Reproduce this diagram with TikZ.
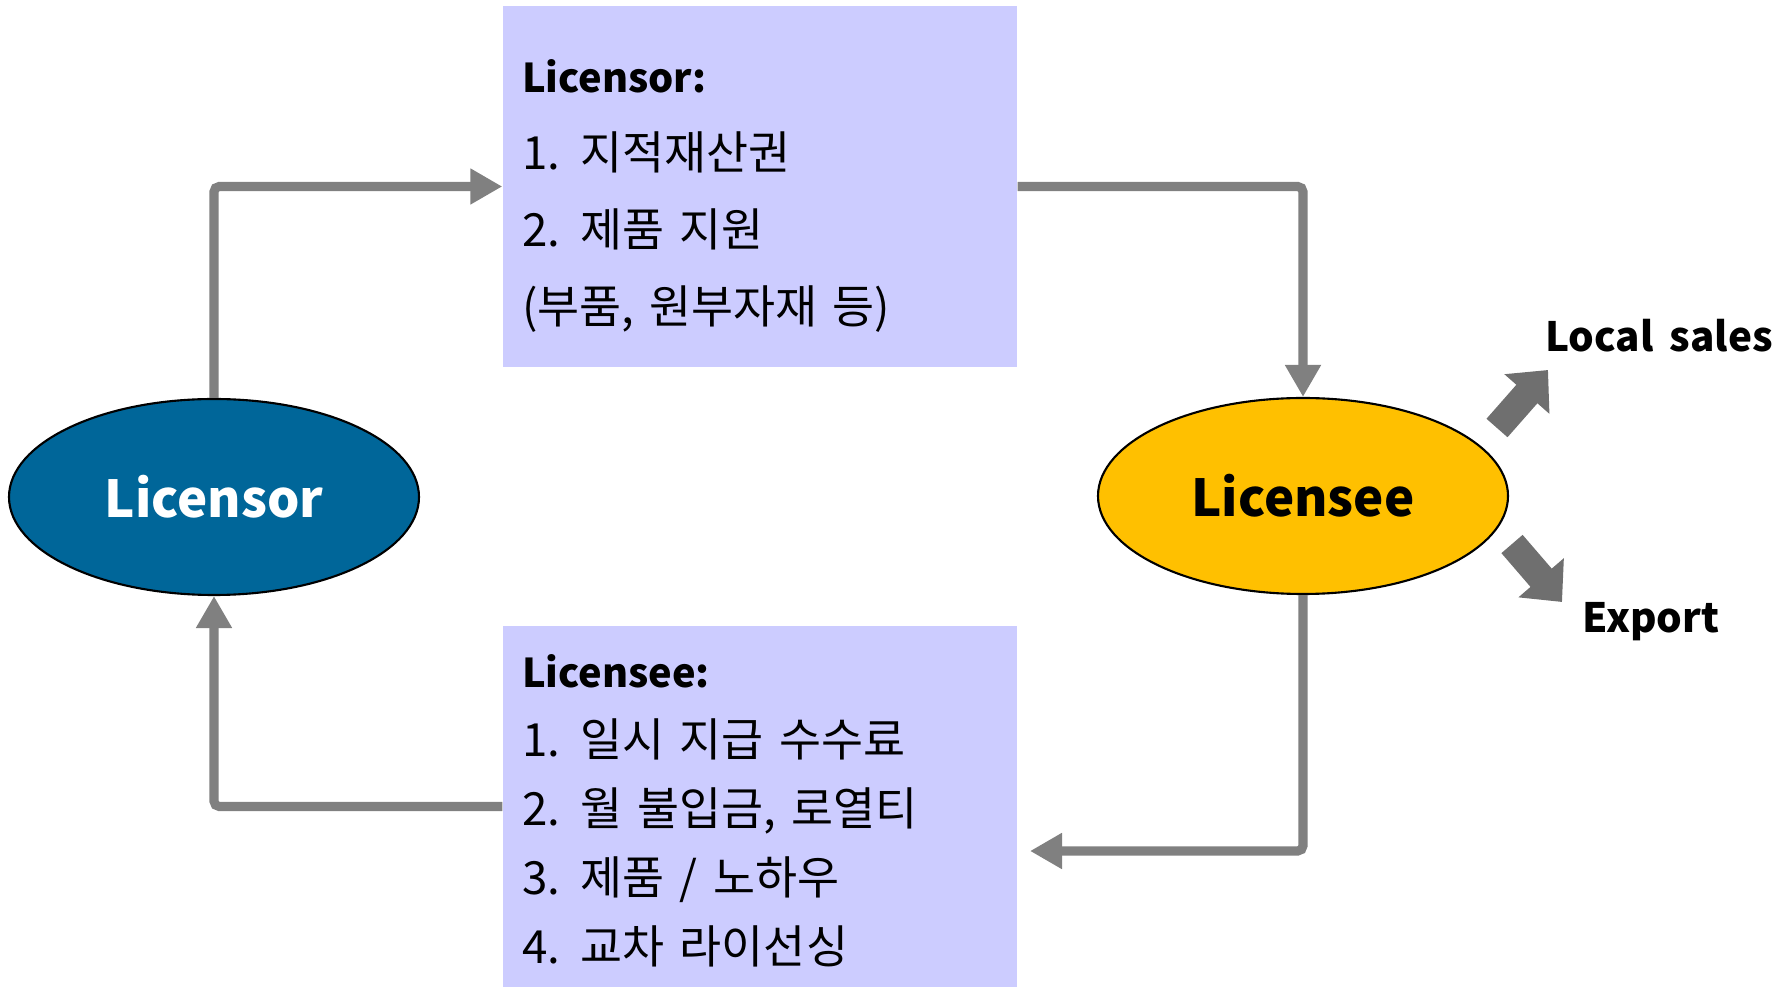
\documentclass[tikz,border=0pt]{standalone}
\usepackage{fontspec}
\setmainfont{Noto Sans CJK KR}
\usepackage{tikz}
\usetikzlibrary{shapes.geometric,arrows.meta}

\definecolor{boxblue}{HTML}{CCCCFF}
\definecolor{licblue}{HTML}{006699}
\definecolor{leegold}{HTML}{FFC000}
\definecolor{flowgray}{HTML}{808080}
\definecolor{outgray}{HTML}{6F6F6F}

\newcommand{\numsep}{\hspace{0.45em}}
\newcommand{\boxhead}[2]{\rule{0pt}{#1}{\fontsize{11.3}{13}\selectfont\bfseries #2}}

\begin{document}
\begin{tikzpicture}
	\tikzstyle{party}=[draw=black,line width=0.6pt,shape=ellipse,minimum width=4.1cm,minimum height=1.96cm,inner sep=0pt,font=\fontsize{14.5}{17}\selectfont\bfseries]
	\tikzstyle{terms}=[fill=boxblue,shape=rectangle,text width=4.76cm,inner xsep=0.19cm,inner ysep=0pt,minimum height=3.61cm,align=left]
	\tikzstyle{flow}=[draw=flowgray,line width=2.6pt,rounded corners=1.5pt,-{Triangle[width=0.34cm,length=0.32cm]}]
	\tikzstyle{outflow}=[draw=outgray,line width=0.28cm,-{Triangle[width=0.58cm,length=0.32cm]}]
	\tikzstyle{market}=[font=\fontsize{11.5}{14}\selectfont\bfseries]

	\useasboundingbox (0,0) rectangle (17.87,9.87);

	\node[party,fill=licblue,text=white](licensor) at (2.14,4.90){Licensor};
	\node[party,fill=leegold](licensee) at (13.03,4.91){Licensee};

	\node[terms,font=\fontsize{13}{22}\selectfont](givebox) at (7.60,8.005){\boxhead{0.52cm}{Licensor:}\\
		1.\numsep 지적재산권\\
		2.\numsep 제품 지원\\
		(부품, 원부자재 등)};
	\node[terms,font=\fontsize{13}{19.6}\selectfont](paybox) at (7.60,1.805){\boxhead{0.42cm}{Licensee:}\\
		1.\numsep 일시 지급 수수료\\
		2.\numsep 월 불입금, 로열티\\
		3.\numsep 제품 / 노하우\\
		4.\numsep 교차 라이선싱};

	\coordinate (payend) at (10.30,1.36);

	\draw[flow] (licensor.north) |- (givebox.west);
	\draw[flow] (givebox.east) -| (licensee.north);
	\draw[flow] (licensee.south) |- (payend);
	\draw[flow] (paybox.west) -| (licensor.south);

	% sales channels
	\node[market](local) at (16.59,6.51){Local\hspace{0.4em}sales};
	\node[market](export) at (16.51,3.65){Export};

	\coordinate (localfrom) at (14.97,5.59);
	\coordinate (localto) at (15.48,6.17);
	\coordinate (exportfrom) at (15.12,4.43);
	\coordinate (exportto) at (15.62,3.85);

	\draw[outflow] (localfrom) -- (localto);
	\draw[outflow] (exportfrom) -- (exportto);

\end{tikzpicture}
\end{document}
